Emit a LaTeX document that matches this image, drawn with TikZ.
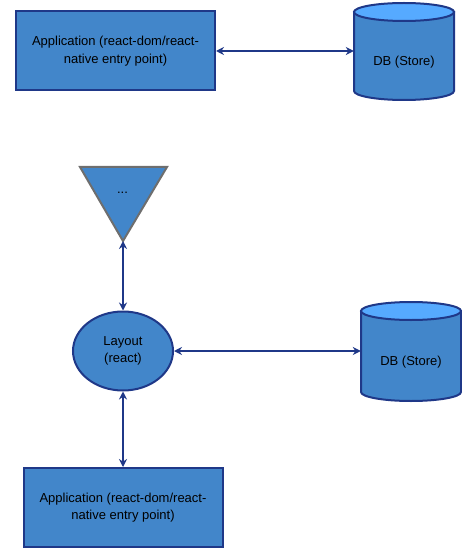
\documentclass[tikz,border=0pt]{standalone}
\usepackage{fontspec}
\setmainfont{Liberation Sans}
\usetikzlibrary{shapes.geometric,arrows.meta}
\definecolor{boxblue}{RGB}{66,134,202}
\definecolor{navy}{RGB}{31,56,136}
\definecolor{lightcap}{RGB}{86,170,255}
\definecolor{trigray}{RGB}{110,110,110}
\tikzset{
  lbl/.style={font=\fontsize{13}{17.5}\selectfont, align=center, text=black},
  appbox/.style={draw=navy, fill=boxblue, line width=2pt, minimum width=199pt, minimum height=79pt, inner sep=0pt, lbl},
  dbarea/.style={minimum width=100pt, minimum height=97pt, inner sep=0pt},
  link/.style={draw=navy, line width=2pt, {Stealth[length=8pt,width=8pt]}-{Stealth[length=8pt,width=8pt]}},
  cylbody/.style={fill=boxblue, draw=navy, line width=2pt},
  cyltop/.style={fill=lightcap, draw=navy, line width=2pt},
}
\newcommand{\dbcyl}[4]{% cx, top y, bottom y, ry
  \path[cylbody] (#1-50,-#2-#4) -- (#1-50,-#3+#4) arc[start angle=180,end angle=360,x radius=50,y radius=#4] -- (#1+50,-#2-#4) -- cycle;
  \path[cyltop] (#1,-#2-#4) ellipse[x radius=50,y radius=#4];
}
\begin{document}
\begin{tikzpicture}[x=1pt,y=1pt]
\useasboundingbox (0,0) rectangle (462,-548);
% top row
\node[appbox] (app1) at (115.5,-51) {Application (react-dom/react-\\native entry point)};
\dbcyl{404}{3}{100}{9}
\node[dbarea] (db1) at (404,-51) {};
\node[lbl] (db1t) at (404,-62) {DB (Store)};
\draw[link] (app1.east) -- (db1.west);
% triangle
\path[fill=boxblue, draw=trigray, line width=2pt, line join=miter] (80,-167) -- (167,-167) -- (123,-241) -- cycle;
\coordinate (triapex) at (123,-241);
\node[lbl] (tridots) at (122.5,-193) {...};
% layout ellipse
\node[ellipse, draw=navy, fill=boxblue, line width=2pt, minimum width=100pt, minimum height=79pt, inner sep=0pt, lbl] (lay) at (123,-351) {Layout\\(react)};
% bottom DB
\dbcyl{411}{302}{401}{9}
\node[dbarea] (db2) at (411,-351) {};
\node[lbl] (db2t) at (411,-362) {DB (Store)};
% bottom app
\node[appbox] (app2) at (123,-507.5) {Application (react-dom/react-\\native entry point)};
% connectors
\draw[link] (triapex) -- (lay.north);
\draw[link] (lay.east) -- (db2.west);
\draw[link] (lay.south) -- (app2.north);
\end{tikzpicture}
\end{document}
